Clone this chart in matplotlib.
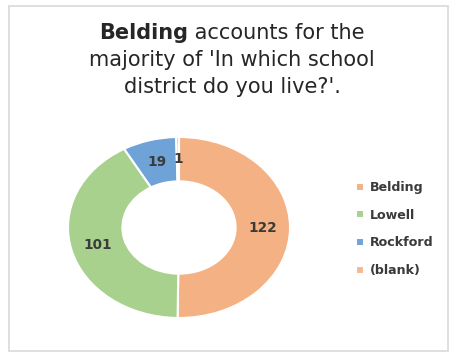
import matplotlib
matplotlib.use("Agg")
import matplotlib.pyplot as plt
from matplotlib.patches import Rectangle

categories = ["Belding", "Lowell", "Rockford", "(blank)"]
values = [122, 101, 19, 1]
colors = ["#F4B183", "#A9D18E", "#6FA3D8", "#F6BA90"]
title_bold = "Belding"
title_rest = [" accounts for the", "majority of 'In which school", "district do you live?'."]

plt.rcParams['font.family'] = ['DejaVu Sans']
W, H = 450, 360
fig = plt.figure(figsize=(4.5, 3.6), dpi=100)
fig.patch.set_facecolor("white")

# outer frame
fig.patches.append(Rectangle((9 / W, 1 - 351 / H), (448 - 9) / W, (351 - 6) / H,
                             transform=fig.transFigure, fill=False,
                             edgecolor="#DCDCDC", linewidth=1.3))

ax = fig.add_axes([68 / W, 1 - 318 / H, 222 / W, 181 / H])
wedges, texts, autotexts = ax.pie(
    values, colors=colors, startangle=90, counterclock=False, radius=1,
    autopct=lambda p: f"{round(p * sum(values) / 100):d}", pctdistance=0.755,
    wedgeprops=dict(width=0.49, edgecolor="white", linewidth=1.5),
    textprops=dict(fontsize=9.8, fontweight="bold", color="#3A3A3A"))
ax.set_aspect("auto")
ax.set_xlim(-1, 1)
ax.set_ylim(-1, 1)

leg = fig.legend(wedges, categories, loc="upper left",
                 bbox_to_anchor=(345 / W, 1 - 170 / H),
                 frameon=False, handlelength=0.6, handleheight=0.6,
                 handletextpad=0.45, labelspacing=1.15,
                 prop=dict(size=9.1, weight="bold"))
for t in leg.get_texts():
    t.set_color("#3A3A3A")

# title with bold first word
fs = 15.0
fig.canvas.draw()
r = fig.canvas.get_renderer()
tb = fig.text(0, 0, title_bold, fontsize=fs, fontweight="bold", color="#262626")
tr = fig.text(0, 0, title_rest[0], fontsize=fs, color="#262626")
wb = tb.get_window_extent(r).width
wr = tr.get_window_extent(r).width
cx = 232
x0 = cx - (wb + wr) / 2
y1 = 1 - 33 / H
tb.set_position((x0 / W, y1)); tb.set_va("center")
tr.set_position(((x0 + wb) / W, y1)); tr.set_va("center")
fig.text(cx / W, 1 - 60 / H, title_rest[1], fontsize=fs, color="#262626", ha="center", va="center")
fig.text(cx / W, 1 - 87 / H, title_rest[2], fontsize=fs, color="#262626", ha="center", va="center")

fig.savefig("out.png", dpi=100)
